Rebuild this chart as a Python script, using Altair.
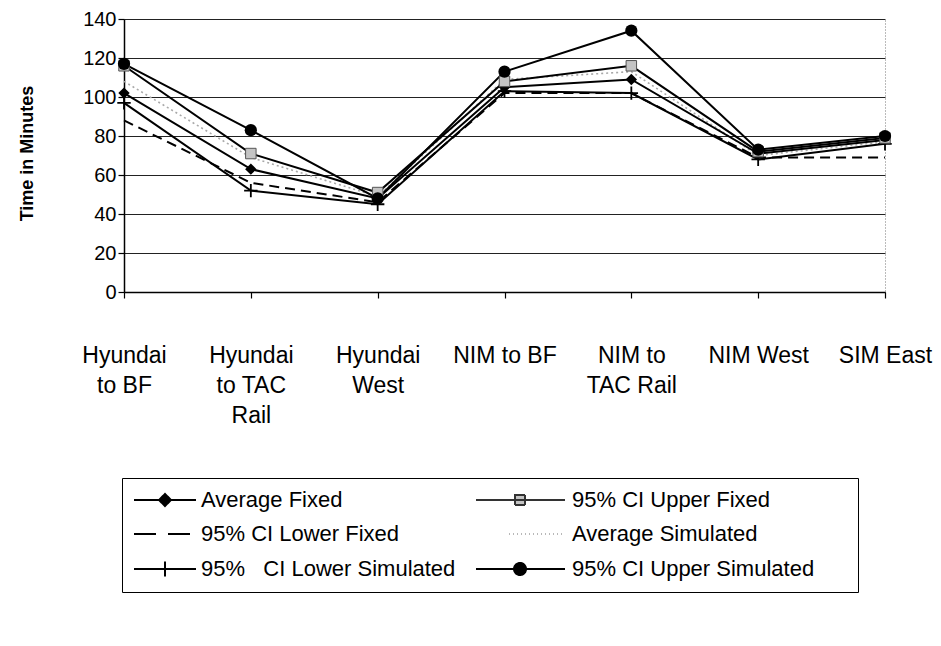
import altair as alt
import pandas as pd

# Category tick labels (line breaks as in the original)
categories = ["Hyundai\nto BF", "Hyundai\nto TAC\nRail", "Hyundai\nWest",
              "NIM to BF", "NIM to\nTAC Rail", "NIM West", "SIM East"]

series_names = ["Average Fixed", "95% CI Upper Fixed", "95% CI Lower Fixed",
                "Average Simulated", "95%\u00a0\u00a0 CI Lower Simulated", "95% CI Upper Simulated"]

avg_fixed   = [102, 63, 48, 105, 109, 71, 78]
upper_fixed = [116, 71, 51, 108, 116, 72, 79]
lower_fixed = [88, 56, 46, 102, 102, 69, 69]
avg_sim     = [108, 69, 49, 109, 113, 70, 77]
lower_sim   = [97, 52, 45, 103, 102, 68, 76]
upper_sim   = [117, 83, 48, 113, 134, 73, 80]

values = [avg_fixed, upper_fixed, lower_fixed, avg_sim, lower_sim, upper_sim]
rows = []
for s, vals in zip(series_names, values):
    for c, v in zip(categories, vals):
        rows.append({"category": c, "series": s, "value": v})
df = pd.DataFrame(rows)

FONT = "Liberation Sans"

x_enc = alt.X("category:N", sort=categories,
              scale=alt.Scale(type="point", padding=0),
              axis=alt.Axis(title=None, labelAngle=0, labelFontSize=23, labelFont=FONT,
                            labelColor="black", labelLineHeight=30, labelPadding=46,
                            labelExpr="split(datum.label, '\\n')",
                            tickColor="black", tickSize=6, tickWidth=1.2,
                            domainColor="black", domainWidth=1.5, grid=False))
y_enc = alt.Y("value:Q", scale=alt.Scale(domain=[0, 140], nice=False),
              axis=alt.Axis(values=[0, 20, 40, 60, 80, 100, 120, 140],
                            title="Time in Minutes", titleFont=FONT, titleFontSize=18,
                            titleFontWeight="bold", titleColor="black",
                            titleX=-97, titleY=134, titleAngle=-90,
                            titleAlign="center", titleBaseline="middle",
                            labelFontSize=20, labelFont=FONT, labelColor="black",
                            labelPadding=2, tickColor="black", tickSize=6, tickWidth=1.2,
                            domainColor="black", domainWidth=1.5,
                            gridColor="#222222", gridWidth=1.2))

base = alt.Chart(df).encode(x=x_enc, y=y_enc)

def only(names):
    return alt.FieldOneOfPredicate(field="series", oneOf=names)

solid = base.transform_filter(only([series_names[0], series_names[1], series_names[4], series_names[5]])) \
    .mark_line(color="black", strokeWidth=2).encode(detail="series:N")
dashed = base.transform_filter(only([series_names[2]])) \
    .mark_line(color="black", strokeWidth=2, strokeDash=[10, 6])
dotted = base.transform_filter(only([series_names[3]])) \
    .mark_line(color="#a8a8a8", strokeWidth=1.6, strokeDash=[2, 3])

pt_diamond = base.transform_filter(only([series_names[0]])) \
    .mark_point(shape="diamond", filled=True, color="black", size=130, opacity=1)
pt_square = base.transform_filter(only([series_names[1]])) \
    .mark_point(shape="square", filled=True, fill="#c4c4c4", stroke="#555555",
                strokeWidth=1, size=110, opacity=1)
pt_plus = base.transform_filter(only([series_names[4]])) \
    .mark_point(shape="M-1,0H1M0,-1V1", filled=False, stroke="black",
                strokeWidth=1.8, size=180, opacity=1)
pt_circle = base.transform_filter(only([series_names[5]])) \
    .mark_point(shape="circle", filled=True, color="black", size=150, opacity=1)

# Legend (entries fill column by column): AF, LF, LS | UF, AS, US
legend_order = [series_names[0], series_names[2], series_names[4],
                series_names[1], series_names[3], series_names[5]]
right_column = legend_order[3:]
legend_paths = [
    "M-1,0H5.2M2.1,-0.6L2.7,0L2.1,0.6L1.5,0Z",
    "M-1,0H5.2",
    "M-1,0H5.2M2.1,-0.75V0.75",
    "M-3.9,0H5M0,-0.5H1V0.5H0Z",
    "M-0.6,0H5",
    "M-3.9,0H5M1.1,0A0.6,0.6,0,1,1,-0.1,0A0.6,0.6,0,1,1,1.1,0Z",
]
legend_strokes = ["black", "black", "black", "#333333", "#b8b8b8", "black"]
legend_fills = ["black", "transparent", "transparent", "#c4c4c4", "transparent", "black"]
legend_dashes = [[1, 0], [22, 12], [1, 0], [1, 0], [1, 3], [1, 0]]

right_list = ",".join("'" + s + "'" for s in right_column)
leg = alt.Legend(title=None, orient="none", legendX=-2, legendY=459, columns=2,
                 columnPadding=16, rowPadding=12, strokeColor="black", padding=11,
                 labelFont=FONT, labelFontSize=22, labelColor="black", labelLimit=600,
                 labelExpr="indexof([" + right_list + "], datum.value) >= 0 ? datum.label + '\u2800\u2800' : datum.label",
                 symbolSize=400, symbolStrokeWidth=2, labelOffset=46)

legend_layer = alt.Chart(df).transform_filter("false").mark_point(opacity=1, strokeWidth=2).encode(
    shape=alt.Shape("series:N", scale=alt.Scale(domain=legend_order, range=legend_paths), legend=leg),
    stroke=alt.Stroke("series:N", scale=alt.Scale(domain=legend_order, range=legend_strokes), legend=leg),
    fill=alt.Fill("series:N", scale=alt.Scale(domain=legend_order, range=legend_fills), legend=leg),
    strokeDash=alt.StrokeDash("series:N", scale=alt.Scale(domain=legend_order, range=legend_dashes), legend=leg),
)

chart = alt.layer(dotted, dashed, solid, pt_plus, pt_diamond, pt_square, pt_circle, legend_layer).properties(
    width=761, height=273,
    autosize=alt.AutoSizeParams(type="none"),
    padding={"left": 116, "top": 11, "right": 48, "bottom": 330},
    background="white",
).configure_view(stroke="#777777", strokeDash=[1, 2], strokeWidth=1)

chart.save("out.html", embed_options={"renderer": "svg", "actions": False})
